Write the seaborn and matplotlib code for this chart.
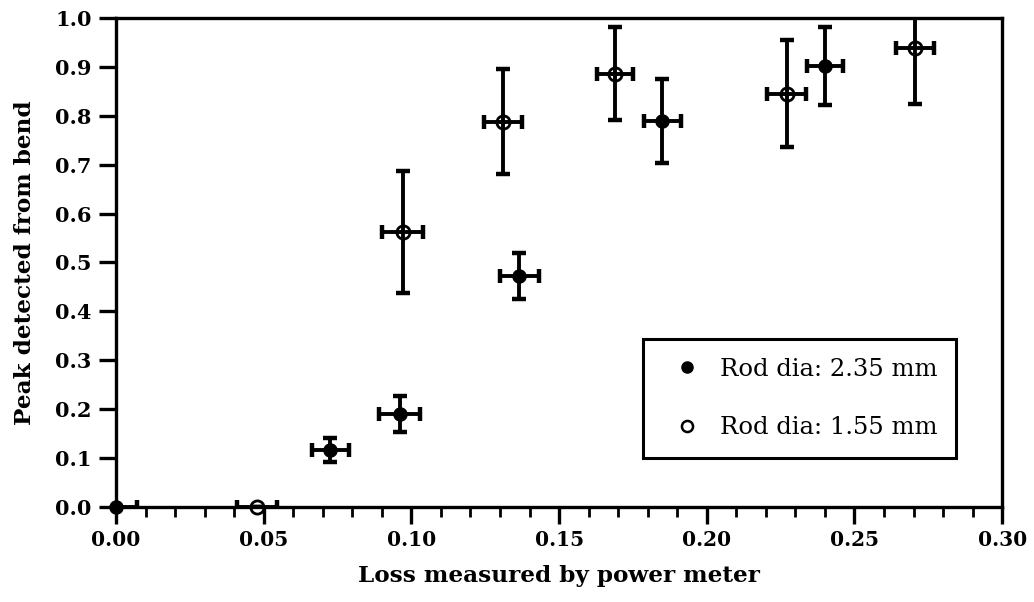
import numpy as np
import pandas as pd
import matplotlib
matplotlib.use("Agg")
import matplotlib.pyplot as plt
import seaborn as sns
from matplotlib.ticker import MultipleLocator, FormatStrFormatter
from matplotlib.lines import Line2D

# Rod diameter 2.35 mm (filled markers)
loss_235 = [0.000, 0.0725, 0.096, 0.1365, 0.185, 0.240]
peak_235 = [0.000, 0.117, 0.190, 0.473, 0.790, 0.902]
loss_err_235 = [0.007, 0.0063, 0.007, 0.0066, 0.0064, 0.006]
peak_err_235 = [0.0, 0.025, 0.037, 0.047, 0.086, 0.080]

# Rod diameter 1.55 mm (open markers)
loss_155 = [0.0477, 0.097, 0.131, 0.169, 0.227, 0.2705]
peak_155 = [0.000, 0.562, 0.788, 0.886, 0.845, 0.938]
loss_err_155 = [0.0069, 0.007, 0.0064, 0.006, 0.0065, 0.0063]
peak_err_155 = [0.0, 0.125, 0.108, 0.095, 0.110, 0.115]

label_235 = "Rod dia: 2.35 mm"
label_155 = "Rod dia: 1.55 mm"

sns.set_theme(style="ticks")
plt.rcParams["font.family"] = ["DejaVu Serif", "DejaVu Sans"]
plt.rcParams["mathtext.fontset"] = "dejavuserif"
plt.rcParams["text.color"] = "black"
plt.rcParams["axes.labelcolor"] = "black"
plt.rcParams["xtick.color"] = "black"
plt.rcParams["ytick.color"] = "black"

fig = plt.figure(figsize=(10.34, 6.02), dpi=100)
ax = fig.add_axes([0.1122, 0.1578, 0.857, 0.8125])

df = pd.DataFrame({
    "loss": loss_235 + loss_155,
    "peak": peak_235 + peak_155,
    "rod": [label_235] * len(loss_235) + [label_155] * len(loss_155),
})

sns.scatterplot(data=df[df.rod == label_235], x="loss", y="peak", ax=ax,
                marker="o", s=80, color="black", edgecolor="black",
                linewidth=1.5, zorder=3, legend=False, clip_on=False)
sns.scatterplot(data=df[df.rod == label_155], x="loss", y="peak", ax=ax,
                marker="o", s=90, facecolor="white", edgecolor="black",
                linewidth=2.0, zorder=3, legend=False, clip_on=False)

err_kw = dict(fmt="none", ecolor="black", elinewidth=2.8, capsize=5.0,
              capthick=3.2, zorder=4)
ax.errorbar(loss_235, peak_235, xerr=loss_err_235, yerr=peak_err_235, **err_kw)
ax.errorbar(loss_155, peak_155, xerr=loss_err_155, yerr=peak_err_155, **err_kw)

ax.set_xlim(0.0, 0.30)
ax.set_ylim(0.0, 1.0)
ax.xaxis.set_major_locator(MultipleLocator(0.05))
ax.xaxis.set_minor_locator(MultipleLocator(0.01))
ax.yaxis.set_major_locator(MultipleLocator(0.1))
ax.xaxis.set_major_formatter(FormatStrFormatter("%.2f"))
ax.yaxis.set_major_formatter(FormatStrFormatter("%.1f"))

for side in ["left", "right", "top", "bottom"]:
    ax.spines[side].set_visible(True)
    ax.spines[side].set_linewidth(2.4)
    ax.spines[side].set_color("black")
    ax.spines[side].set_zorder(5)

ax.tick_params(axis="x", which="major", direction="out", length=12.5,
               width=2.4, labelsize=14.5, pad=4)
ax.tick_params(axis="y", which="major", direction="out", length=12.5,
               width=2.4, labelsize=15, pad=5)
ax.tick_params(axis="x", which="minor", direction="out", length=7,
               width=2.0)
ax.tick_params(axis="y", which="minor", left=False)
for lab in ax.get_xticklabels() + ax.get_yticklabels():
    lab.set_fontweight("bold")

ax.set_xlabel("Loss measured by power meter", fontsize=16.7,
              fontweight="bold", labelpad=11)
ax.set_ylabel("Peak detected from bend", fontsize=16.7,
              fontweight="bold", labelpad=14)

handles = [
    Line2D([], [], linestyle="none", marker="o", markersize=8,
           markerfacecolor="black", markeredgecolor="black"),
    Line2D([], [], linestyle="none", marker="o", markersize=8,
           markerfacecolor="white", markeredgecolor="black",
           markeredgewidth=1.8),
]
leg = ax.legend(handles, [label_235, label_155], loc="upper left",
                bbox_to_anchor=(0.595, 0.3436), borderaxespad=0,
                frameon=True, fancybox=False, edgecolor="black",
                framealpha=1.0, fontsize=17.5, labelspacing=1.45,
                handletextpad=0.37, borderpad=0.78, handlelength=2.0)
leg.get_frame().set_linewidth(2.2)

fig.savefig("out.png", dpi=100, facecolor="white")
